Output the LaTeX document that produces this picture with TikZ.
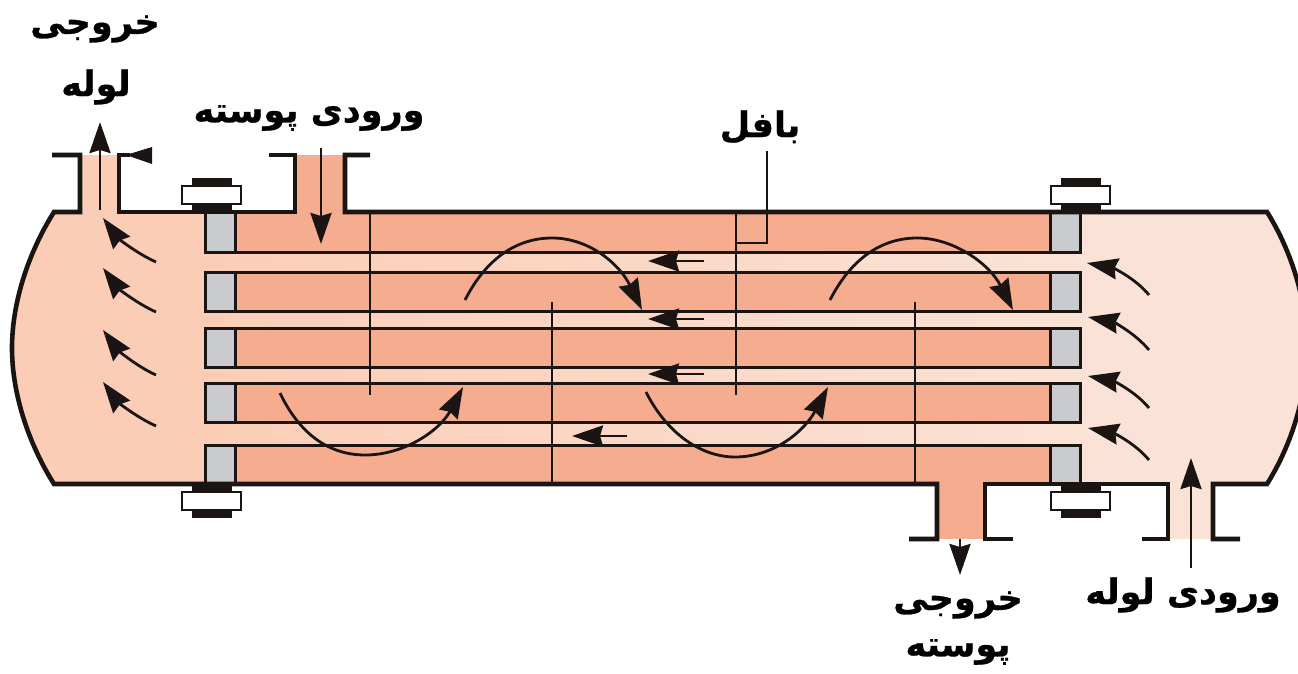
\documentclass[tikz,border=0pt]{standalone}
\usepackage{fontspec}
\usepackage{xcolor}
\usetikzlibrary{positioning,arrows.meta}
\newfontfamily\arabicfont[Script=Arabic,BoldFeatures={FakeBold=0.8}]{DejaVu Sans}
\TeXXeTstate=1
\definecolor{shellfill}{HTML}{F6AC8E}
\definecolor{lefthead}{HTML}{FBCDB6}
\definecolor{righthead}{HTML}{FAE3D6}
\definecolor{plategray}{HTML}{C9CBCE}
\definecolor{inkline}{HTML}{1A1512}
\tikzset{
wall/.style={draw=inkline, line width=4.6pt, line join=miter},
tube/.style={draw=inkline, line width=3pt},
baffle/.style={draw=inkline, line width=2.8pt},
flow/.style={draw=inkline, line width=2.8pt, -{Stealth[length=31pt,width=21pt,inset=3pt]}},
plate/.style={fill=plategray, draw=inkline, line width=3pt},
lbl/.style={font=\arabicfont\bfseries\fontsize{35}{40}\selectfont, inner sep=0pt, text=black}
}
\newcommand{\bolt}[2]{
  \fill[inkline] (#1+10,#2-8) rectangle (#1+50,#2);
  \fill[inkline] (#1+10,#2+18) rectangle (#1+50,#2+26);
  \draw[fill=white, draw=inkline, line width=2.6pt] (#1,#2) rectangle (#1+59,#2+18);
}
\newcommand{\bandfill}[2]{
  \shade[left color=lefthead, right color=righthead] (205,#1) rectangle (1080,#2);
}
\begin{document}
\begin{tikzpicture}[x=1pt,y=-1pt]
\clip (0,0) rectangle (1298,674);

% fills
\fill[lefthead] (54,212) .. controls (30,250) and (12,300) .. (12,348) .. controls (12,396) and (30,446) .. (54,484) -- (205,484) -- (205,212) -- cycle;
\fill[lefthead] (80,155) rectangle (119,212);
\fill[righthead] (1267,212) .. controls (1291,250) and (1307,300) .. (1307,348) .. controls (1307,396) and (1291,446) .. (1267,484) -- (1080,484) -- (1080,212) -- cycle;
\fill[righthead] (1168,484) rectangle (1213,539);
\fill[shellfill] (235,212) rectangle (1050,484);
\fill[shellfill] (295,155) rectangle (345,212);
\fill[shellfill] (937,484) rectangle (985,539);
\bandfill{252}{272}
\bandfill{311}{328}
\bandfill{367}{383}
\bandfill{422}{445}

% tube plates
\draw[plate] (205,212) rectangle (235,252);
\draw[plate] (205,272) rectangle (235,311);
\draw[plate] (205,328) rectangle (235,367);
\draw[plate] (205,383) rectangle (235,422);
\draw[plate] (205,445) rectangle (235,484);
\draw[plate] (1050,212) rectangle (1080,252);
\draw[plate] (1050,272) rectangle (1080,311);
\draw[plate] (1050,328) rectangle (1080,367);
\draw[plate] (1050,383) rectangle (1080,422);
\draw[plate] (1050,445) rectangle (1080,484);

% tubes
\draw[tube] (205,252) -- (1080,252) (205,272) -- (1080,272);
\draw[tube] (205,311) -- (1080,311) (205,328) -- (1080,328);
\draw[tube] (205,367) -- (1080,367) (205,383) -- (1080,383);
\draw[tube] (205,422) -- (1080,422) (205,445) -- (1080,445);

% baffles
\draw[baffle] (370,212) -- (370,395);
\draw[baffle] (552,302) -- (552,484);
\draw[baffle] (736,212) -- (736,395);
\draw[baffle] (915,302) -- (915,484);

% shell and nozzles
\draw[wall] (52,155) -- (80,155) -- (80,212) -- (54,212) .. controls (30,250) and (12,300) .. (12,348) .. controls (12,396) and (30,446) .. (54,484) -- (937,484) -- (937,539) -- (909,539);
\draw[wall] (130,155) -- (119,155) -- (119,212) -- (295,212) -- (295,155) -- (269,155);
\draw[wall] (370,155) -- (345,155) -- (345,212) -- (1267,212) .. controls (1291,250) and (1307,300) .. (1307,348) .. controls (1307,396) and (1291,446) .. (1267,484) -- (1213,484) -- (1213,539) -- (1240,539);
\draw[wall] (1142,539) -- (1168,539) -- (1168,484) -- (985,484) -- (985,539) -- (1013,539);
\fill[inkline] (126,155) -- (152,147) -- (152,164) -- cycle;

% bolts
\bolt{182}{186}
\bolt{182}{492}
\bolt{1051}{186}
\bolt{1051}{492}

% labels
\node[lbl] (tubeoutA) at (95,29) {\beginR خروجی\endR};
\node[lbl] (tubeoutB) at (96,87) {\beginR لوله\endR};
\node[lbl] (shellin) at (309,118) {\beginR ورودی پوسته\endR};
\node[lbl] (bafflelabel) at (760,127) {\beginR بافل\endR};
\node[lbl] (shelloutA) at (958,605) {\beginR خروجی\endR};
\node[lbl] (shelloutB) at (958,652) {\beginR پوسته\endR};
\node[lbl] (tubein) at (1183,595) {\beginR ورودی لوله\endR};

% pointer to baffle
\coordinate (bafflefoot) at (736,243);
\draw[baffle] ([xshift=7pt,yshift=-7pt]bafflelabel.south) |- (bafflefoot);

% nozzle arrows
\draw[flow] (100,210) -- (100,122);
\draw[flow] (321,148) -- (321,244);
\draw[flow] (960,539) -- (960,575);
\draw[flow] (1191,568) -- (1191,458);

% left head arrows
\draw[flow] (156,262) .. controls (136,253) and (118,238) .. (103,218);
\draw[flow] (156,312) .. controls (136,303) and (118,288) .. (103,268);
\draw[flow] (156,375) .. controls (136,366) and (118,350) .. (103,330);
\draw[flow] (156,426) .. controls (136,417) and (118,402) .. (103,382);

% right head arrows
\draw[flow] (1149,295) .. controls (1135,278) and (1113,268) .. (1087,263);
\draw[flow] (1149,350) .. controls (1135,333) and (1113,322) .. (1088,317);
\draw[flow] (1149,408) .. controls (1135,391) and (1113,381) .. (1088,376);
\draw[flow] (1149,460) .. controls (1135,443) and (1113,433) .. (1088,428);

% arrows in tubes
\draw[flow] (704,261) -- (648,261);
\draw[flow] (704,319) -- (648,319);
\draw[flow] (704,374) -- (648,374);
\draw[flow] (627,436) -- (572,436);

% arrows round the baffles
\draw[flow] (465,300) .. controls (488,255) and (520,238) .. (552,238) .. controls (590,238) and (620,265) .. (642,310);
\draw[flow] (830,300) .. controls (853,255) and (885,238) .. (917,238) .. controls (955,238) and (990,265) .. (1013,310);
\draw[flow] (280,393) .. controls (300,435) and (330,455) .. (365,455) .. controls (405,455) and (440,430) .. (463,387);
\draw[flow] (646,392) .. controls (666,432) and (700,457) .. (735,457) .. controls (775,457) and (805,430) .. (828,387);
\end{tikzpicture}
\end{document}
